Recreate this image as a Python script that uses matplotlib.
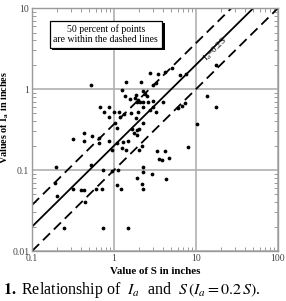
import matplotlib
matplotlib.use("Agg")
import matplotlib.pyplot as plt
import matplotlib.patheffects as pe
import numpy as np

plt.rcParams["font.family"] = ["Liberation Serif", "DejaVu Serif"]
plt.rcParams["mathtext.fontset"] = "stix"

# measured storm data, S and Ia in inches
s_vals = [0.52, 1.40, 1.25, 1.36, 1.57, 0.67, 0.87, 0.75, 1.00, 1.15, 0.87, 1.96,
          1.61, 1.32, 1.03, 1.18, 2.75, 3.44, 4.19, 5.10, 6.38, 7.55, 17.5, 2.13,
          2.99, 3.25, 2.26, 2.39, 1.85, 2.53, 1.80, 1.91, 2.07, 2.26, 2.60, 2.99,
          3.96, 2.26, 2.99, 2.75, 3.25, 1.96, 7.34, 6.75, 6.03, 1.85, 2.26, 13.6,
          17.5, 10.3,
          0.32, 0.43, 0.43, 0.54, 0.66, 0.66, 0.87, 1.09, 0.95, 1.09, 1.29, 1.25,
          1.40, 1.48, 0.52, 0.73, 0.95, 1.12, 1.91, 1.09, 1.22, 1.66, 1.91, 2.02,
          1.91, 1.75, 2.19, 2.00, 3.34, 4.19, 3.54, 3.85, 4.69, 7.98, 2.26, 2.26,
          2.90, 4.31, 2.19, 2.26,
          0.196, 0.19, 0.20, 0.32, 0.40, 0.43, 0.44, 0.60, 0.71, 0.245, 0.73, 1.48]
ia_vals = [1.12, 1.22, 0.97, 0.82, 0.75, 0.60, 0.60, 0.52, 0.52, 0.52, 0.45, 0.73,
           0.51, 0.49, 0.38, 0.45, 1.58, 1.53, 1.62, 1.82, 1.49, 1.53, 1.98, 1.22,
           1.12, 1.19, 0.94, 0.87, 0.84, 0.82, 0.77, 0.69, 0.69, 0.69, 0.69, 0.71,
           0.69, 0.60, 0.60, 0.55, 0.52, 0.52, 0.67, 0.62, 0.58, 0.44, 0.38, 0.82,
           0.60, 0.37,
           0.24, 0.29, 0.23, 0.26, 0.25, 0.215, 0.23, 0.33, 0.177, 0.215, 0.22, 0.187,
           0.177, 0.23, 0.115, 0.10, 0.097, 0.10, 0.080, 0.065, 0.058, 0.32, 0.31, 0.32,
           0.27, 0.29, 0.198, 0.177, 0.172, 0.172, 0.137, 0.133, 0.141, 0.19, 0.109, 0.094,
           0.089, 0.077, 0.067, 0.058,
           0.109, 0.069, 0.048, 0.058, 0.057, 0.057, 0.040, 0.058, 0.058, 0.019, 0.019, 0.019]

ratio_mid = 0.2
ratio_hi = 0.37
ratio_lo = 0.1

fig = plt.figure(figsize=(2.86, 3.01), dpi=100)
ax = fig.add_axes([0.112, 0.166, 0.860, 0.807])
ax.set_xscale("log")
ax.set_yscale("log")
ax.set_xlim(0.1, 100)
ax.set_ylim(0.01, 10)

grey = "#9a9a9a"
ax.grid(True, which="major", color="#b0b0b0", lw=1.2)
for sp in ax.spines.values():
    sp.set_color(grey)
    sp.set_linewidth(1.0)
ax.tick_params(which="both", direction="in", top=True, right=True, color=grey,
               labelsize=7, labelcolor="#444444", pad=2)
ax.tick_params(which="major", length=0)
ax.tick_params(which="minor", length=3, width=0.7)
ax.set_xticks([0.1, 1, 10, 100])
ax.set_xticklabels(["0.1", "1", "10", "100"])
ax.set_yticks([0.01, 0.1, 1, 10])
ax.set_yticklabels(["0.01", "0.1", "1", "10"])

s_line = np.array([0.1, 100])
ax.plot(s_line, ratio_mid * s_line, color="black", lw=1.3)
ax.plot(s_line, ratio_hi * s_line, color="black", lw=1.3, dashes=(5.5, 3))
ax.plot(s_line, ratio_lo * s_line, color="black", lw=1.3, dashes=(5.5, 3))

ax.plot(s_vals, ia_vals, "o", color="black", ms=2.7, mew=0, clip_on=False)

ax.text(17.5, 3.1, "I$_a$=0.2S", rotation=45, fontsize=6.5, ha="center", va="center",
        color="black")

t = ax.text(0.30, 0.893, "50 percent of points\nare within the dashed lines",
            transform=ax.transAxes, ha="center", va="center", fontsize=7,
            linespacing=1.1,
            bbox=dict(boxstyle="square,pad=0.4", fc="white", ec="black", lw=0.9))
t.get_bbox_patch().set_path_effects([
    pe.withSimplePatchShadow(offset=(2, -2), shadow_rgbFace="black", alpha=1.0)])

ax.set_xlabel("Value of S in inches", fontsize=7.8, fontweight="bold", labelpad=3)
ax.set_ylabel("Values of I$_\\mathbf{a}$ in inches", fontsize=7.3, fontweight="bold")
ax.yaxis.set_label_coords(-0.085, 0.55)

fig.text(0.01, 0.035, "$\\mathbf{1.}$ Relationship of  $I_a$  and  $S\\,(I_a = 0.2\\,S)$.",
         fontsize=11.5, ha="left", va="center")

fig.savefig("out.png", dpi=100)
